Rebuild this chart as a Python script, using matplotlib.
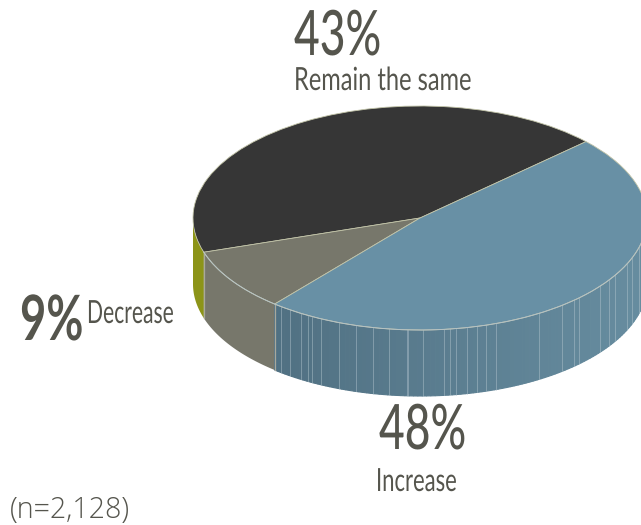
#! /usr/bin/python

import numpy as np
from matplotlib import pyplot as plt
from matplotlib.patheffects import AbstractPathEffect
from matplotlib.transforms import Affine2D

W, H = 641, 525

# slices, counter clockwise from the top right edge
labels = ['Remain the same', 'Decrease', 'Increase']
values = [43, 9, 48]
top_colors = ['#363636', '#77776b', '#6890a5']
start_angle = 43

# ellipse in pixels
cx, cy, rx, ry, depth = 420, 218, 227, 112, 66

# pale scratches on the blue wall (pixel x)
streaks = [275, 281, 290, 301, 308, 312, 321, 339, 356, 373, 389, 408,
           407, 423, 444, 450, 456, 467, 477, 486, 496, 539, 562, 574, 579,
           600, 609, 615, 627, 632, 639]

TXT = '#55554d'


class Squeeze(AbstractPathEffect):
    # no condensed face installed, so narrow the glyphs about the text start
    def __init__(self, fx):
        super().__init__()
        self.fx = fx

    def draw_path(self, renderer, gc, tpath, affine, rgbFace=None):
        x0 = affine.get_matrix()[0, 2]
        squeeze = Affine2D().translate(-x0, 0).scale(self.fx, 1).translate(x0, 0)
        renderer.draw_path(gc, tpath, affine + squeeze, rgbFace)


def px(x, y):
    return (x - cx) / rx, (cy - y) / ry


def rim(t):
    return np.cos(np.radians(t)), np.sin(np.radians(t))


def mix(a, b, f):
    a, b = np.array(a), np.array(b)
    return tuple((a + (b - a) * f) / 255.)


fig = plt.figure(figsize=(W / 100, H / 100), dpi=100)
ax = fig.add_axes([0, 0, 1, 1])
wedges, _ = ax.pie(values, startangle=start_angle, radius=1, center=(0, 0), colors=top_colors,
                   wedgeprops={'edgecolor': '#c2c4a8', 'linewidth': 0.6}, frame=False)
for w in wedges:
    w.set_zorder(5)
ax.set_aspect('auto')
ax.set_xlim(px(0, 0)[0], px(W, 0)[0])
ax.set_ylim(px(0, H)[1], px(0, 0)[1])
ax.axis('off')

edges = start_angle + np.cumsum([0] + values) * 3.6
d = depth / ry

# walls, only the part facing us (180..360)
walls = [(180, edges[1], '#8c9418'), (edges[1], edges[2], '#77776b')]
for t0, t1, col in walls:
    t = np.linspace(t0, t1, 40)
    x, y = rim(t)
    ax.fill(np.r_[x, x[::-1]], np.r_[y, y[::-1] - d], color=col, lw=0, zorder=1)

# blue wall gets lighter to the right
ts = np.linspace(edges[2], 360, 120)
for t0, t1 in zip(ts[:-1], ts[1:]):
    x, y = rim(np.array([t0, t1]))
    f = (x.mean() + 0.65) / 1.65
    ax.fill(np.r_[x, x[::-1]], np.r_[y, y[::-1] - d],
            color=mix((80, 112, 130), (103, 141, 160), f), lw=0.8, zorder=1)

for sx in streaks:
    x = (sx - cx) / rx
    if x > 1:
        continue
    y = -np.sqrt(1 - x ** 2)
    ax.plot([x, x], [y, y - d], color='#b4c6cf', lw=0.6, alpha=0.55, zorder=2)

# rim of front wall and wall seams
t = np.linspace(edges[1], 360, 200)
ax.plot(*rim(t), color='#b5c2c4', lw=0.7, zorder=6)
for e in edges[1:3]:
    x, y = rim(e)
    ax.plot([x, x], [y, y - d], color='#a8a89c', lw=0.9, zorder=3)


def label(x, y, s, size, fx, **kw):
    ax.text(*px(x, y), s, fontsize=size, ha='left', va='center', color=TXT, family=['Lato', 'DejaVu Sans'],
            path_effects=[Squeeze(fx)], **kw)


label(294, 37, '43%', 45, 0.71, fontweight='medium')
label(294, 81, 'Remain the same', 23, 0.74)
label(379, 431, '48%', 45, 0.71, fontweight='medium')
label(376, 482, 'Increase', 23, 0.69)
label(20, 322, '9%', 45, 0.725, fontweight='bold')
label(87, 314, 'Decrease', 23, 0.66)
ax.text(*px(10, 510), '(n=2,128)', fontsize=20.6, ha='left', va='center', color=TXT,
        family=['Open Sans', 'DejaVu Sans'], fontweight='light')

fig.savefig('out.png', dpi=100)
